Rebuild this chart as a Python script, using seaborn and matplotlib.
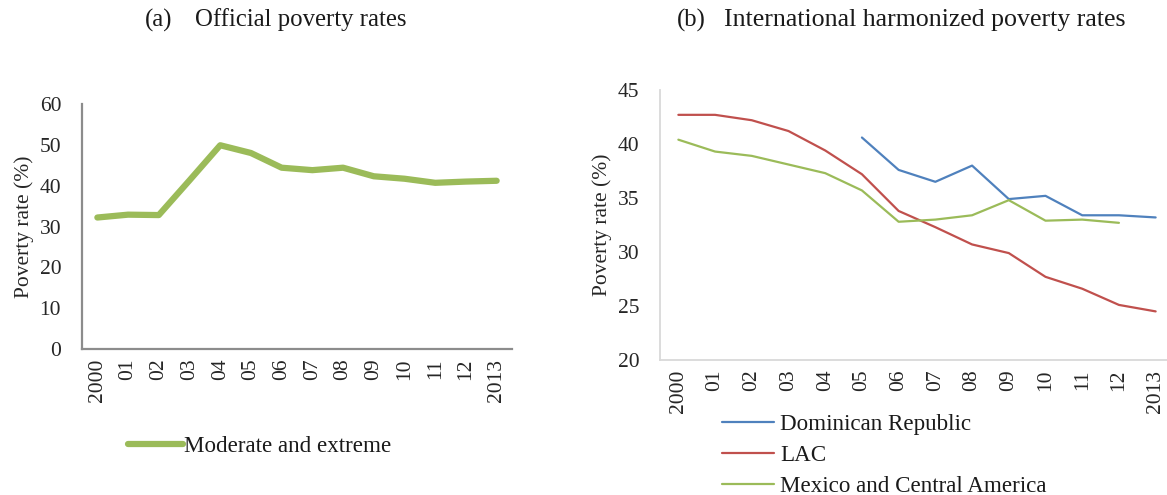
import matplotlib
matplotlib.use("Agg")
import matplotlib.pyplot as plt
import seaborn as sns
import numpy as np
import pandas as pd

# Years on the category axis
years = list(range(2000, 2014))
year_labels = ["2000", "01", "02", "03", "04", "05", "06", "07", "08", "09", "10", "11", "12", "2013"]

# (a) Official poverty rate, moderate and extreme (%)
official = [32.2, 32.9, 32.8, 41.3, 49.9, 48.0, 44.4, 43.8, 44.4, 42.3, 41.7, 40.7, 41.0, 41.2]

# (b) International harmonized poverty rates (%)
dominican = [np.nan, np.nan, np.nan, np.nan, np.nan, 40.6, 37.6, 36.5, 38.0, 34.9, 35.2, 33.4, 33.4, 33.2]
lac = [42.7, 42.7, 42.2, 41.2, 39.4, 37.2, 33.8, 32.3, 30.7, 29.9, 27.7, 26.6, 25.1, 24.5]
mex_ca = [40.4, 39.3, 38.9, 38.1, 37.3, 35.7, 32.8, 33.0, 33.4, 34.8, 32.9, 33.0, 32.7, np.nan]

series_names = ["Dominican Republic", "LAC", "Mexico and Central America"]
series_colors = ["#4F81BD", "#C0504D", "#9BBB59"]

sns.set_theme(style="white")
plt.rcParams["font.family"] = ["Liberation Serif", "DejaVu Serif"]
plt.rcParams["text.color"] = "#1a1a1a"

idx = np.arange(len(years))
df_a = pd.DataFrame({"pos": idx, "rate": official, "series": "Moderate and extreme"})
df_b = pd.concat([
    pd.DataFrame({"pos": idx, "rate": vals, "series": name})
    for name, vals in zip(series_names, [dominican, lac, mex_ca])
], ignore_index=True)

W, H = 1167, 495
fig = plt.figure(figsize=(W / 100, H / 100), dpi=100)
ax1 = fig.add_axes([82 / W, 1 - 349 / H, 430 / W, 245 / H])
ax2 = fig.add_axes([660 / W, 1 - 360 / H, 514 / W, 270 / H])

tick_fs = 15.5
legend_fs = 16.6


def style_axes(ax, spine_color, spine_width):
    ax.set_xlim(-0.5, 13.5)
    ax.set_xticks(idx)
    ax.set_xticklabels(year_labels, rotation=90, fontsize=tick_fs)
    ax.tick_params(axis="y", labelsize=tick_fs, length=0, pad=15)
    ax.tick_params(axis="x", length=0, pad=7)
    ax.set_xlabel("")
    ax.set_ylabel("Poverty rate (%)", fontsize=tick_fs, labelpad=4)
    for side in ["top", "right"]:
        ax.spines[side].set_visible(False)
    for side in ["left", "bottom"]:
        ax.spines[side].set_color(spine_color)
        ax.spines[side].set_linewidth(spine_width)


# Panel (a)
sns.lineplot(data=df_a, x="pos", y="rate", hue="series", palette=["#9BBB59"],
             linewidth=4.5, ax=ax1, legend=True, solid_capstyle="round")
ax1.set_ylim(0, 60)
ax1.set_yticks(range(0, 61, 10))
style_axes(ax1, "#8c8c8c", 1.6)
leg1 = ax1.legend(loc="center left", bbox_to_anchor=(0.106, -0.397), frameon=False,
                  fontsize=legend_fs, handlelength=2.4, handletextpad=0.05,
                  borderaxespad=0, borderpad=0)
for line in leg1.get_lines():
    line.set_linewidth(4.5)
    line.set_solid_capstyle("round")

# Panel (b)
sns.lineplot(data=df_b, x="pos", y="rate", hue="series", palette=series_colors,
             hue_order=series_names, linewidth=1.6, ax=ax2, legend=True)
ax2.set_ylim(20, 45)
ax2.set_yticks(range(20, 46, 5))
style_axes(ax2, "#d9d9d9", 1.3)
leg2 = ax2.legend(loc="upper left", bbox_to_anchor=(0.1206, -0.198), frameon=False,
                  fontsize=legend_fs, handlelength=2.27, handletextpad=0.26,
                  labelspacing=0.44, borderaxespad=0, borderpad=0)
for line in leg2.get_lines():
    line.set_linewidth(1.6)

# Panel headings
head_fs = 17.8
head_y = 1 - 20 / H
fig.text(145 / W, head_y, "(a)", ha="left", va="center", fontsize=head_fs)
fig.text(195 / W, head_y, "Official poverty rates", ha="left", va="center", fontsize=head_fs)
fig.text(677 / W, head_y, "(b)", ha="left", va="center", fontsize=head_fs)
fig.text(724 / W, head_y, "International harmonized poverty rates", ha="left", va="center",
         fontsize=18.6)

fig.savefig("out.png", dpi=100)
